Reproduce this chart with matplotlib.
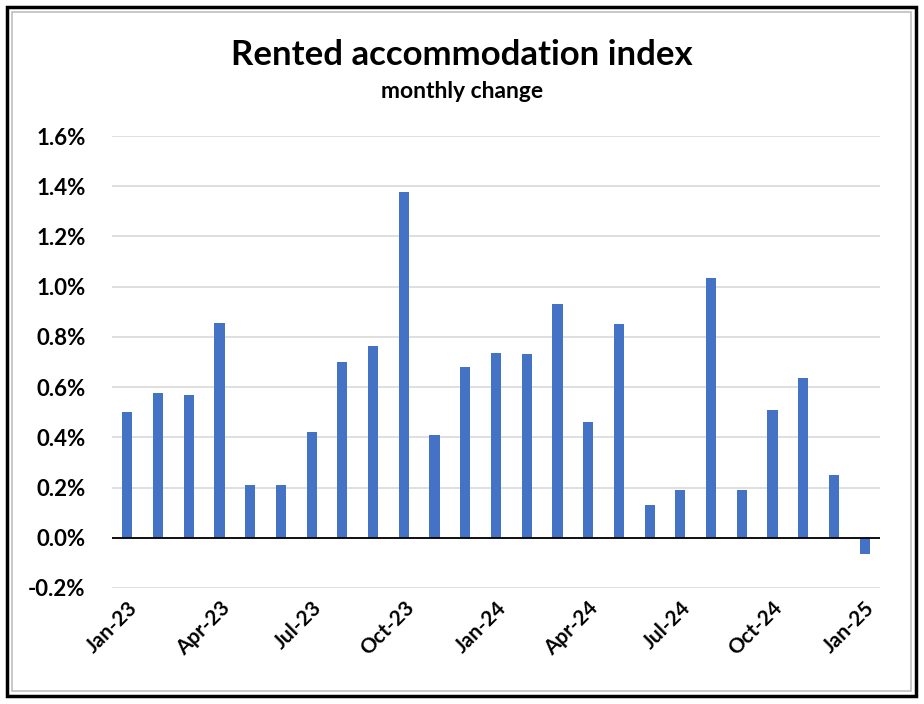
import matplotlib.pyplot as plt
from matplotlib.patches import Rectangle
from matplotlib.ticker import FuncFormatter

# Monthly change in rented accommodation index, Jan-23 .. Jan-25 (percent)
months = ['Jan-23', 'Feb-23', 'Mar-23', 'Apr-23', 'May-23', 'Jun-23', 'Jul-23',
          'Aug-23', 'Sep-23', 'Oct-23', 'Nov-23', 'Dec-23', 'Jan-24', 'Feb-24',
          'Mar-24', 'Apr-24', 'May-24', 'Jun-24', 'Jul-24', 'Aug-24', 'Sep-24',
          'Oct-24', 'Nov-24', 'Dec-24', 'Jan-25']
changes = [0.50, 0.575, 0.57, 0.855, 0.21, 0.21, 0.42,
           0.70, 0.763, 1.378, 0.41, 0.68, 0.737, 0.733,
           0.929, 0.46, 0.85, 0.13, 0.19, 1.035, 0.19,
           0.51, 0.635, 0.25, -0.065]
yticks = [-0.2, 0.0, 0.2, 0.4, 0.6, 0.8, 1.0, 1.2, 1.4, 1.6]

font = 'Lato'
bar_color = '#4472C4'

fig = plt.figure(figsize=(9.24, 7.04), dpi=100)
ax = fig.add_axes([0.1212, 0.1648, 0.8312, 0.642])

x = list(range(len(months)))
ax.bar(x, changes, width=0.33, color=bar_color, zorder=3)
ax.axhline(0, color='black', linewidth=1.3, zorder=4)

ax.set_xlim(-0.5, len(months) - 0.5)
ax.set_ylim(-0.2, 1.6)
ax.set_yticks(yticks)
ax.yaxis.set_major_formatter(FuncFormatter(lambda v, p: f'{v:.1f}%'))
ax.grid(axis='y', color='#D9D9D9', linewidth=1.2, zorder=0)

tick_pos = x[::3]
ax.set_xticks(tick_pos)
ax.set_xticklabels([months[i] for i in tick_pos], rotation=45, ha='right',
                   rotation_mode='anchor')

for lbl in ax.get_xticklabels():
    lbl.set_fontfamily(font)
    lbl.set_fontweight('bold')
    lbl.set_fontsize(15)
for lbl in ax.get_yticklabels():
    lbl.set_fontfamily(font)
    lbl.set_fontweight('bold')
    lbl.set_fontsize(16)
ax.tick_params(axis='both', length=0)
ax.tick_params(axis='y', pad=19)
ax.tick_params(axis='x', pad=7)

for s in ax.spines.values():
    s.set_visible(False)

fig.text(0.5, 0.922, 'Rented accommodation index', ha='center', va='center',
         fontsize=25, fontweight='bold', family=font)
fig.text(0.5, 0.870, 'monthly change', ha='center', va='center',
         fontsize=16.5, fontweight='bold', family=font)

# double frame around the chart
fig.patches.append(Rectangle((7 / 924, 8 / 704), 909 / 924, 689 / 704,
                             transform=fig.transFigure, fill=False,
                             edgecolor='black', linewidth=2.5))
fig.patches.append(Rectangle((12 / 924, 13 / 704), 899 / 924, 679 / 704,
                             transform=fig.transFigure, fill=False,
                             edgecolor='#BFBFBF', linewidth=1.2))

fig.savefig('out.png', dpi=100)
